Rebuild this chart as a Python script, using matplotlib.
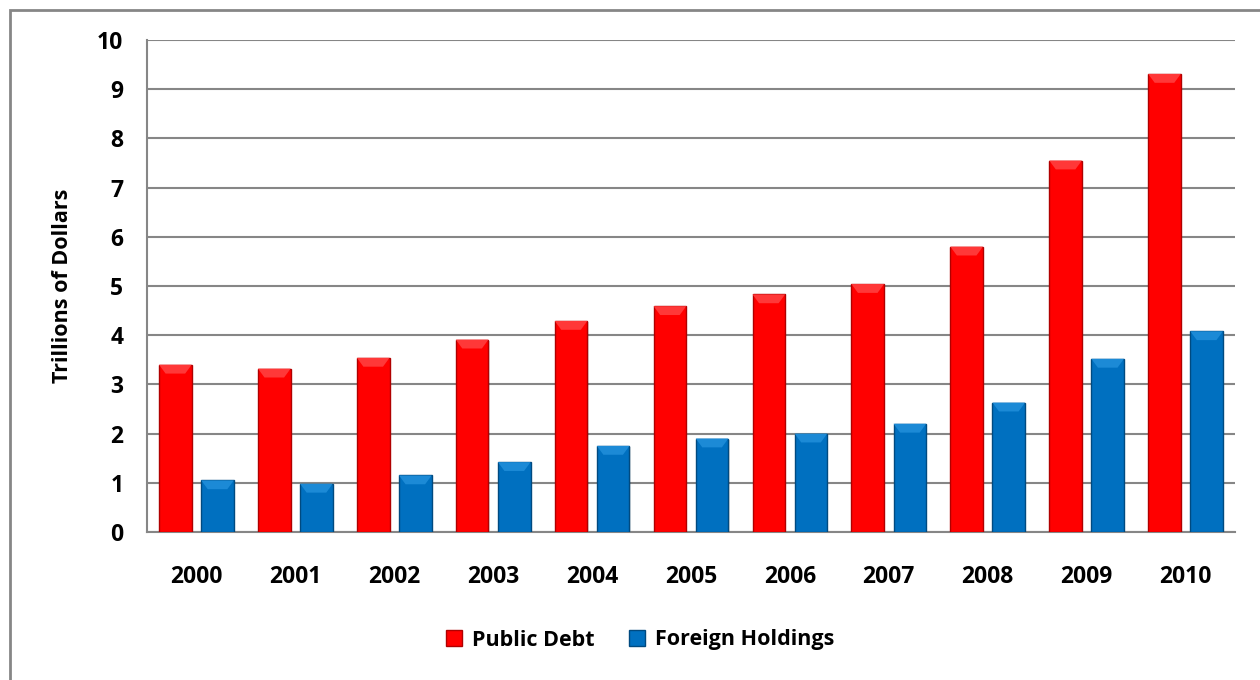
import matplotlib
matplotlib.use("Agg")
import matplotlib.pyplot as plt
from matplotlib.patches import Rectangle, Polygon
import numpy as np

years = ["2000", "2001", "2002", "2003", "2004", "2005", "2006", "2007", "2008", "2009", "2010"]
public_debt = [3.40, 3.32, 3.54, 3.91, 4.29, 4.59, 4.83, 5.04, 5.80, 7.55, 9.31]
foreign_holdings = [1.05, 0.98, 1.15, 1.42, 1.75, 1.90, 2.00, 2.20, 2.63, 3.52, 4.08]
yticks = list(range(0, 11))

plt.rcParams['font.family'] = ['Open Sans', 'DejaVu Sans']
plt.rcParams['font.weight'] = 'bold'

W, H = 1260, 680
fig = plt.figure(figsize=(W / 100, H / 100), dpi=100)
# outer frame (left/top visible)
fig.patches.append(Rectangle((10 / W, -0.1), 1.2, 1 - 10 / H + 0.1, transform=fig.transFigure,
                             fill=False, edgecolor='#868686', linewidth=2.0))

ax = fig.add_axes([147 / W, 1 - 532 / H, (1235 - 147) / W, (532 - 40) / H])
x = np.arange(len(years))
bw = 0.33
off = 0.213

def bevel_bars(xs, vals, face, dark, light):
    bars = ax.bar(xs, vals, width=bw, color=face, edgecolor=dark, linewidth=1.0, zorder=3)
    for b in bars:
        x0, w, h = b.get_x(), b.get_width(), b.get_height()
        # shadow
        ax.add_patch(Rectangle((x0 + 0.012, 0), w, h - 0.03, facecolor='#00000022', edgecolor='none', zorder=2))
        d = min(0.18, h * 0.3)
        ax.add_patch(Polygon([(x0, h), (x0 + w, h), (x0 + w * 0.8, h - d), (x0 + w * 0.2, h - d)],
                             closed=True, facecolor=light, edgecolor='none', zorder=4))
    return bars

b1 = bevel_bars(x - off, public_debt, '#FF0000', '#B00000', '#FF3838')
b2 = bevel_bars(x + off, foreign_holdings, '#0070C0', '#004A80', '#1C8AD6')

ax.set_xlim(-0.5, len(years) - 0.5)
ax.set_ylim(0, 10)
ax.set_yticks(yticks)
ax.set_xticks(x)
ax.set_xticklabels(years)
ax.tick_params(axis='both', length=0, labelsize=16.5, colors='black')
ax.tick_params(axis='y', pad=17)
ax.tick_params(axis='x', pad=24)
for lab in ax.get_xticklabels() + ax.get_yticklabels():
    lab.set_fontweight('bold')
ax.grid(axis='y', color='#868686', linewidth=1.5, zorder=0)
ax.set_axisbelow(True)
for s in ['top', 'right']:
    ax.spines[s].set_visible(False)
for s in ['left', 'bottom']:
    ax.spines[s].set_color('#868686')
    ax.spines[s].set_linewidth(1.5)
ax.set_ylabel('Trillions of Dollars', fontsize=15.5, fontweight='bold')
ax.yaxis.set_label_coords(-(147 - 73) / (1235 - 147), 0.5)

leg = fig.legend([b1, b2], ['Public Debt', 'Foreign Holdings'], loc='center',
                 bbox_to_anchor=(640 / W, 1 - 640 / H), ncol=2, frameon=False,
                 prop={'weight': 'bold', 'size': 15.5}, handlelength=0.75, handleheight=0.75,
                 handletextpad=0.45, columnspacing=1.6)

fig.savefig('out.png', dpi=100, facecolor='white')
